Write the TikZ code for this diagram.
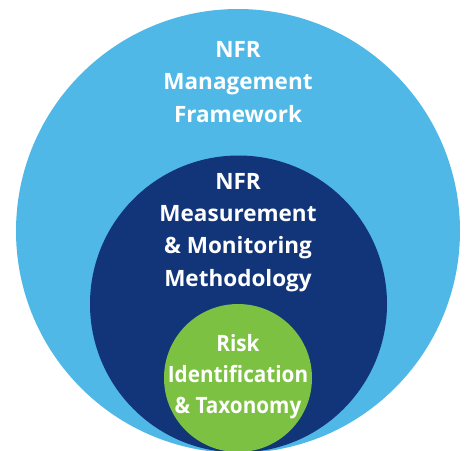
\documentclass[tikz,border=0pt]{standalone}
\usepackage{fontspec}
\setmainfont{Open Sans}
\definecolor{lightblue}{HTML}{4FB8E7}
\definecolor{navy}{HTML}{12357A}
\definecolor{leaf}{HTML}{7CC142}
\begin{document}
\begin{tikzpicture}[x=1pt,y=-1pt,
  ring/.style={circle,inner sep=0pt,draw=none},
  lbl/.style={text=white,align=center,font=\bfseries\fontsize{22.5}{32.3}\selectfont,inner sep=0pt},
  smalllbl/.style={lbl,font=\bfseries\fontsize{22.5}{31}\selectfont,xscale=0.92,transform shape}]
\useasboundingbox (0,0) rectangle (465,450);
\clip (0,0) rectangle (465,450);
\node[ring,fill=lightblue,minimum size=444pt] (outer) at (238,231) {};
\node[ring,fill=navy,minimum size=297pt] (middle) at (238.5,304) {};
\node[ring,fill=leaf,minimum size=148pt] (inner) at (238,378) {};
\node[lbl] (outerlbl) at (238,82) {NFR\\Management\\Framework};
\node[lbl] (middlelbl) at (238,232.5) {NFR\\Measurement\\\& Monitoring\\Methodology};
\node[smalllbl] (innerlbl) at (238,377) {Risk\\Identification\\\& Taxonomy};
\end{tikzpicture}
\end{document}
